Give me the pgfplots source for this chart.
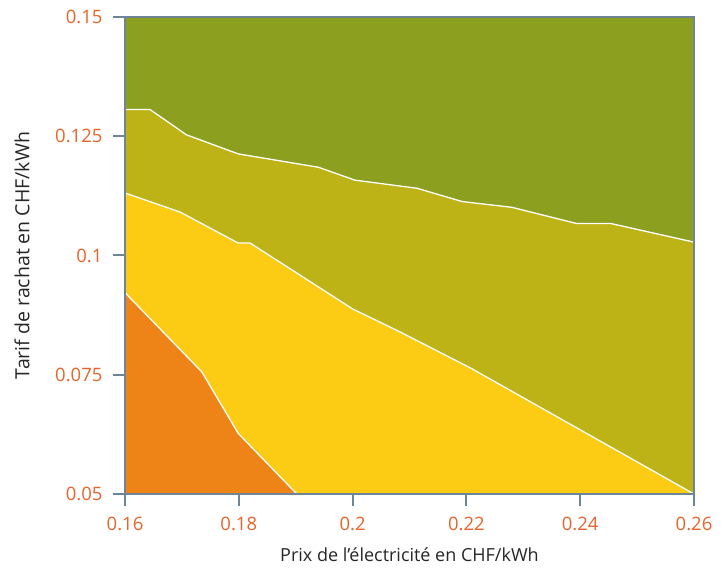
\documentclass[border=0pt]{standalone}
\usepackage{fontspec}
\setmainfont{Open Sans}
\usepackage{pgfplots}
\pgfplotsset{compat=1.18}
\definecolor{dgreen}{HTML}{8C9F1E}
\definecolor{olivec}{HTML}{BDB316}
\definecolor{yel}{HTML}{FCCB14}
\definecolor{org}{HTML}{EE8418}
\definecolor{axc}{HTML}{6E8597}
\definecolor{tickc}{HTML}{E8642C}
\begin{document}
\fontsize{19}{22}\selectfont
\begin{tikzpicture}
\begin{axis}[
  scale only axis, width=569pt, height=477pt,
  xmin=0.16, xmax=0.26, ymin=0.05, ymax=0.15,
  xtick={0.16,0.18,0.2,0.22,0.24,0.26},
  xticklabels={0.16,0.18,0.2,0.22,0.24,0.26},
  ytick={0.05,0.075,0.1,0.125,0.15},
  yticklabels={0.05,0.075,0.1,0.125,0.15},
  xtick pos=lower, ytick pos=left,
  tick align=outside, major tick length=12pt,
  axis line style={axc, line width=2.5pt},
  tick style={axc, line width=2pt},
  ticklabel style={text=tickc, font=\fontsize{18.5}{22}\selectfont},
  xticklabel style={yshift=-5pt},
  yticklabel style={xshift=-4pt},
  /pgf/number format/assume math mode=true,
  axis on top,
  every axis x label/.style={at={(axis description cs:0.5,-0.128)}, anchor=center, font=\fontsize{18}{22}\selectfont},
  every axis y label/.style={at={(axis description cs:-0.181,0.5)}, anchor=center, rotate=90, font=\fontsize{19.5}{22}\selectfont},
  label style={text=black!85},
  xlabel={Prix de l’électricité en CHF/kWh},
  ylabel={Tarif de rachat en CHF/kWh},
]
% background: top region
\addplot[draw=none, fill=dgreen] coordinates {(0.16,0.05) (0.26,0.05) (0.26,0.15) (0.16,0.15)} -- cycle;
% below boundary 1
\addplot[draw=none, fill=olivec] coordinates {
 (0.16,0.05) (0.16,0.1306) (0.1644,0.1306) (0.1708,0.1253) (0.1799,0.1213) (0.194,0.1185) (0.2004,0.1158) (0.2113,0.1141) (0.2193,0.1113) (0.228,0.1101) (0.2394,0.1067) (0.2454,0.1067) (0.26,0.1028) (0.26,0.05)} -- cycle;
% below boundary 2
\addplot[draw=none, fill=yel] coordinates {
 (0.16,0.05) (0.16,0.1131) (0.1697,0.1091) (0.1799,0.1026) (0.182,0.1026) (0.2,0.0888) (0.2083,0.0840) (0.2209,0.0763) (0.26,0.05)} -- cycle;
% below boundary 3
\addplot[draw=none, fill=org] coordinates {
 (0.16,0.05) (0.16,0.0922) (0.1735,0.0756) (0.1799,0.0627) (0.1902,0.05)} -- cycle;
% white boundaries
\addplot[white, line width=1.3pt] coordinates {
 (0.16,0.1306) (0.1644,0.1306) (0.1708,0.1253) (0.1799,0.1213) (0.194,0.1185) (0.2004,0.1158) (0.2113,0.1141) (0.2193,0.1113) (0.228,0.1101) (0.2394,0.1067) (0.2454,0.1067) (0.26,0.1028)};
\addplot[white, line width=1.3pt] coordinates {
 (0.16,0.1131) (0.1697,0.1091) (0.1799,0.1026) (0.182,0.1026) (0.2,0.0888) (0.2083,0.0840) (0.2209,0.0763) (0.26,0.05)};
\addplot[white, line width=1.3pt] coordinates {
 (0.16,0.0922) (0.1735,0.0756) (0.1799,0.0627) (0.1902,0.05)};
\coordinate (sw) at (rel axis cs:0,0);
\coordinate (ne) at (rel axis cs:1,1);
\end{axis}
\pgfresetboundingbox
\path ([xshift=-125pt,yshift=-75pt]sw) rectangle ([xshift=31pt,yshift=17pt]ne);
\end{tikzpicture}
\end{document}
